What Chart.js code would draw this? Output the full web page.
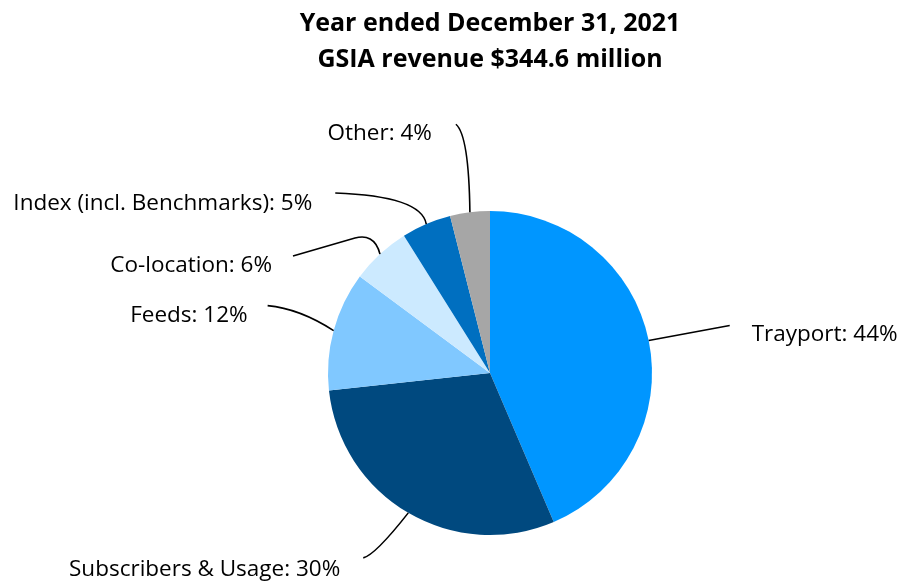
<!DOCTYPE html>
<html>
<head>
<meta charset="utf-8">
<script src="https://cdn.jsdelivr.net/npm/chart.js@4.4.1/dist/chart.umd.min.js"></script>
<style>
  html, body { margin: 0; padding: 0; background: #fff; }
  #wrap { width: 901px; height: 582px; }
</style>
</head>
<body>
<div id="wrap"><canvas id="gsia"></canvas></div>
<script>
// data
const segments = ['Trayport', 'Subscribers & Usage', 'Feeds', 'Co-location', 'Index (incl. Benchmarks)', 'Other'];
const shares = [44, 30, 12, 6, 5, 4];
const sliceColors = ['#0096FF', '#00497F', '#80C8FF', '#CCEAFF', '#006FC0', '#A6A6A6'];
const titleLines = ['Year ended December 31, 2021', 'GSIA revenue $344.6 million'];

// leader line shapes, offsets from the slice's outer mid point
const leaders = [
    { path: [['L', 81, -15]], text: [22, 9], align: 'left' },
    { path: [['Q', -33, 42, -45, 45]], text: [-23, 12], align: 'right' },
    { path: [['Q', -34, -22, -66, -25]], text: [-20, 10], align: 'right' },
    { path: [['C', -4, -16, -14, -19, -25, -16], ['L', -87, 2]], text: [-21, 10], align: 'right' },
    { path: [['Q', -5, -28, -91, -31]], text: [-23, 11], align: 'right' },
    { path: [['Q', -1, -77, -14, -88]], text: [-24, 9], align: 'right' }
];

const labelFont = '22.5px "Open Sans", sans-serif';

const leaderLabels = {
    id: 'leaderLabels',
    afterDatasetsDraw(chart) {
        const ctx = chart.ctx;
        const arcs = chart.getDatasetMeta(0).data;
        ctx.save();
        ctx.strokeStyle = '#000';
        ctx.lineWidth = 1.6;
        ctx.fillStyle = '#000';
        ctx.font = labelFont;
        ctx.textBaseline = 'middle';
        arcs.forEach(function (arc, i) {
            const p = arc.getProps(['x', 'y', 'startAngle', 'endAngle', 'outerRadius'], true);
            const mid = (p.startAngle + p.endAngle) / 2;
            const ax = p.x + Math.cos(mid) * p.outerRadius;
            const ay = p.y + Math.sin(mid) * p.outerRadius;
            const lead = leaders[i];
            ctx.beginPath();
            ctx.moveTo(ax, ay);
            let ex = ax, ey = ay;
            lead.path.forEach(function (s) {
                if (s[0] === 'L') {
                    ex = ax + s[1]; ey = ay + s[2];
                    ctx.lineTo(ex, ey);
                } else if (s[0] === 'Q') {
                    ex = ax + s[3]; ey = ay + s[4];
                    ctx.quadraticCurveTo(ax + s[1], ay + s[2], ex, ey);
                } else {
                    ex = ax + s[5]; ey = ay + s[6];
                    ctx.bezierCurveTo(ax + s[1], ay + s[2], ax + s[3], ay + s[4], ex, ey);
                }
            });
            ctx.stroke();
            ctx.textAlign = lead.align;
            ctx.fillText(segments[i] + ': ' + shares[i] + '%', ex + lead.text[0], ey + lead.text[1]);
        });
        ctx.restore();
    }
};

new Chart(document.getElementById('gsia').getContext('2d'), {
    type: 'pie',
    data: {
        labels: segments,
        datasets: [{
            data: shares,
            backgroundColor: sliceColors,
            borderWidth: 0
        }]
    },
    options: {
        responsive: true,
        maintainAspectRatio: false,
        animation: false,
        layout: {
            padding: { left: 79, right: 0, top: 0, bottom: 47 }
        },
        plugins: {
            legend: { display: false },
            tooltip: { enabled: false },
            title: {
                display: true,
                text: titleLines,
                color: '#000',
                font: { family: '"Open Sans", sans-serif', size: 25, weight: 'bold', lineHeight: 1.44 },
                padding: { top: 6, bottom: 133 }
            }
        }
    },
    plugins: [leaderLabels]
});
</script>
</body>
</html>
